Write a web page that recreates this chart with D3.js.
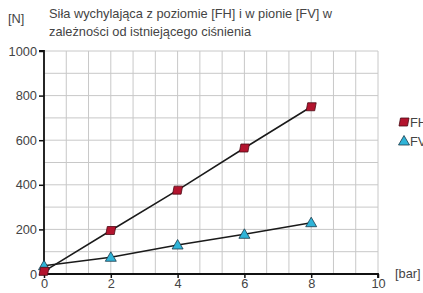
<!DOCTYPE html>
<html><head><meta charset="utf-8">
<script src="https://cdn.jsdelivr.net/npm/d3@7"></script>
<style>body{margin:0;background:#fff}svg{display:block;font-family:"Liberation Sans",Arial,sans-serif}</style>
</head><body>
<svg id="c" width="423" height="293"></svg>
<script>
const pressure = [0, 2, 4, 6, 8];
const fhValues = [12, 195, 376, 565, 750];
const fvValues = [37, 75, 130, 178, 230];
const seriesNames = ["FH", "FV"];
const xTicks = [0, 2, 4, 6, 8, 10];
const yTicks = [0, 200, 400, 600, 800, 1000];
const titleLines = ["Siła wychylająca z poziomie [FH] i w pionie [FV] w", "zależności od istniejącego ciśnienia"];

const svg = d3.select("#c");
const x = d3.scaleLinear().domain([0, 10]).range([44, 378]);
const y = d3.scaleLinear().domain([0, 1000]).range([274, 51]);
const textCol = "#444";
const fs = "12.8px";

// grid
const vGrid = d3.range(0, 10.001, 2/3);
svg.append("g").selectAll("line").data(vGrid).join("line")
  .attr("x1", d => x(d)).attr("x2", d => x(d)).attr("y1", y(0)).attr("y2", y(1000))
  .attr("stroke", "#c8c8c8").attr("stroke-width", 1);
svg.append("g").selectAll("line").data(d3.range(0, 1001, 100)).join("line")
  .attr("x1", x(0)).attr("x2", x(10)).attr("y1", d => y(d)).attr("y2", d => y(d))
  .attr("stroke", "#c8c8c8").attr("stroke-width", 1);

// axes
const yAxis = svg.append("g").attr("transform", `translate(${x(0)},0)`)
  .call(d3.axisLeft(y).tickValues(yTicks).tickFormat(d3.format("d")).tickSize(5).tickPadding(2));
const xAxis = svg.append("g").attr("transform", `translate(0,${y(0)})`)
  .call(d3.axisBottom(x).tickValues(xTicks).tickFormat(d3.format("d")).tickSize(4).tickPadding(1));
[yAxis, xAxis].forEach(a => {
  a.select(".domain").attr("stroke", "#111").attr("stroke-width", 1.8);
  a.selectAll(".tick line").attr("stroke", "#111").attr("stroke-width", 1.5);
  a.selectAll(".tick text").attr("fill", textCol).style("font-size", fs).style("font-family", "Liberation Sans, Arial, sans-serif");
});
yAxis.select(".domain").attr("d", `M-5,${y(1000)}H0V${y(0)}`);
xAxis.select(".domain").attr("d", `M${x(0)},0H${x(10)}V4`);

// lines
const line = d3.line().x(d => x(d[0])).y(d => y(d[1]));
const fh = pressure.map((p, i) => [p, fhValues[i]]);
const fv = pressure.map((p, i) => [p, fvValues[i]]);
[fh, fv].forEach(s => svg.append("path").attr("d", line(s)).attr("fill", "none").attr("stroke", "#1a1a1a").attr("stroke-width", 1.5));

// markers
const sq = "M-3.5,-4 L5,-4 L3.5,4 L-5,4 Z";
const tri = "M0,-5.5 L5.5,4 L-5.5,4 Z";
svg.append("g").selectAll("path").data(fv).join("path")
  .attr("transform", d => `translate(${x(d[0])},${y(d[1])})`).attr("d", tri)
  .attr("fill", "#2fb4d8").attr("stroke", "#1a3a4a").attr("stroke-width", 0.8);
svg.append("g").selectAll("path").data(fh).join("path")
  .attr("transform", d => `translate(${x(d[0])},${y(d[1])})`).attr("d", sq)
  .attr("fill", "#b3142e").attr("stroke", "#4a0a14").attr("stroke-width", 0.8);

// legend
const leg = svg.append("g");
leg.append("path").attr("transform", "translate(404,122)").attr("d", sq).attr("fill", "#b3142e").attr("stroke", "#4a0a14").attr("stroke-width", 0.8);
leg.append("path").attr("transform", "translate(404,141)").attr("d", tri).attr("fill", "#2fb4d8").attr("stroke", "#1a3a4a").attr("stroke-width", 0.8);
seriesNames.forEach((n, i) => leg.append("text").attr("x", 410).attr("y", 127 + i * 19).attr("fill", textCol).style("font-size", fs).text(n));

// titles
svg.append("text").attr("x", 8).attr("y", 23).attr("fill", textCol).style("font-size", fs).text("[N]");
titleLines.forEach((t, i) => svg.append("text").attr("x", 49).attr("y", 18 + i * 18).attr("fill", textCol).style("font-size", fs).text(t));
svg.append("text").attr("x", 395).attr("y", 278).attr("fill", textCol).style("font-size", fs).text("[bar]");
</script>
</body></html>
